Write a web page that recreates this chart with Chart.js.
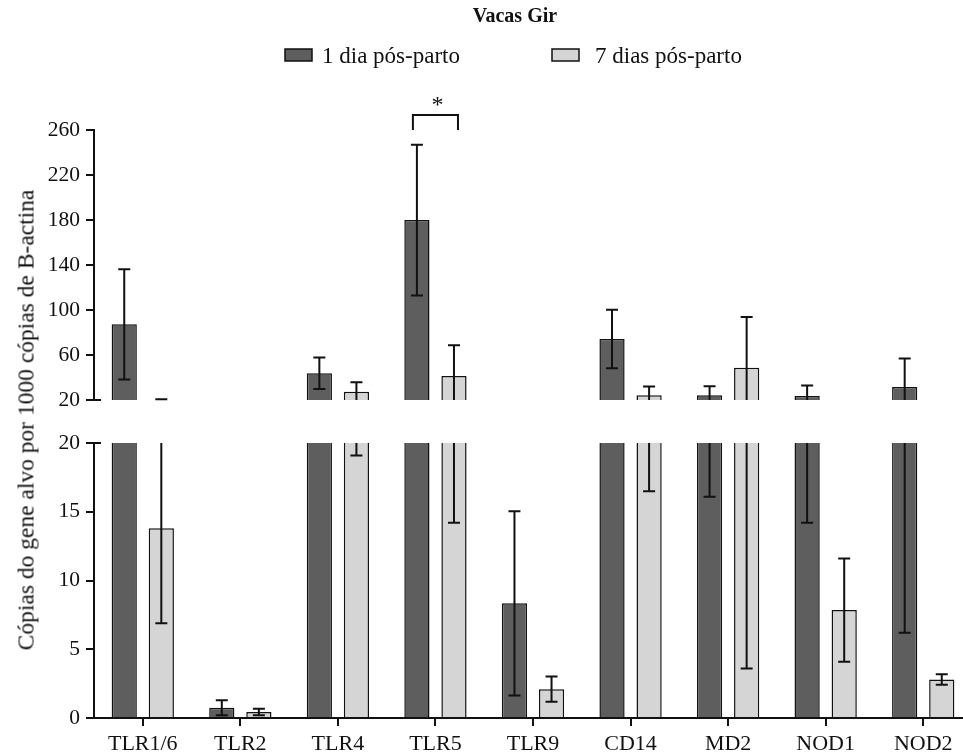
<!DOCTYPE html>
<html>
<head>
<meta charset="utf-8">
<script src="https://cdn.jsdelivr.net/npm/chart.js@4"></script>
<style>
  html, body { margin: 0; padding: 0; background: #fff; overflow: hidden; }
  #wrap { position: relative; width: 972px; height: 753px; }
  #wrap canvas { position: absolute; left: 0; }
  #ytitle {
    position: absolute; left: 26px; top: 420px;
    transform: translate(-50%, -50%) rotate(-90deg);
    white-space: nowrap; color: #111;
    font: 23.5px "Liberation Serif", "Times New Roman", serif;
  }
</style>
</head>
<body>
<div id="wrap">
  <canvas id="upper" width="972" height="420" style="top:0"></canvas>
  <canvas id="lower" width="972" height="338" style="top:415px"></canvas>
  <div id="ytitle">Cópias do gene alvo por 1000 cópias de B-actina</div>
</div>
<script>
/* DATA */
const genes = ['TLR1/6', 'TLR2', 'TLR4', 'TLR5', 'TLR9', 'CD14', 'MD2', 'NOD1', 'NOD2']
const dia1 = [87.3, 0.75, 43.7, 180, 8.34, 74.2, 24.2, 23.6, 31.6]
const dia1Err = [49, 0.55, 14, 67, 6.7, 26, 8.1, 9.4, 25.4]
const dia7 = [13.8, 0.44, 27.4, 41.4, 2.1, 24.2, 48.7, 7.85, 2.8]
const dia7Err = [6.9, 0.24, 8.3, 27.2, 0.92, 7.7, 45.1, 3.75, 0.38]
const seriesNames = ['1 dia pós-parto', '7 dias pós-parto']
const upperRange = [20, 260, 40]   // min, max, step
const lowerRange = [0, 20, 5]
const sigIndex = 3                 // TLR5, p < 0.05

Chart.defaults.font.family = '"Liberation Serif", "Times New Roman", serif'
Chart.defaults.color = '#111'

const fills = ['#5e5e5e', '#d5d5d5']

function makeData(){
    return {
        labels: genes,
        datasets: [
            {label: seriesNames[0], data: dia1, errors: dia1Err, backgroundColor: fills[0]},
            {label: seriesNames[1], data: dia7, errors: dia7Err, backgroundColor: fills[1]}
        ].map(d => Object.assign(d, {
            borderColor: '#111', borderWidth: 1.5, borderSkipped: 'start',
            barPercentage: 0.68, categoryPercentage: 0.76, clip: 0
        }))
    }
}

/* error bars, clamped to the panel */
const errorBars = {
    id: 'errorBars',
    afterDatasetsDraw(chart){
        const {ctx} = chart
        const y = chart.scales.y
        ctx.save()
        ctx.strokeStyle = '#111'
        ctx.lineWidth = 2
        chart.data.datasets.forEach((ds, i) => {
            chart.getDatasetMeta(i).data.forEach((bar, j) => {
                const lo = ds.data[j] - ds.errors[j], hi = ds.data[j] + ds.errors[j]
                if (hi < y.min || lo > y.max) return
                const yTop = y.getPixelForValue(Math.min(hi, y.max))
                const yBot = y.getPixelForValue(Math.max(lo, y.min))
                ctx.beginPath()
                ctx.moveTo(bar.x, yTop); ctx.lineTo(bar.x, yBot)
                if (hi <= y.max){ ctx.moveTo(bar.x - 6, yTop); ctx.lineTo(bar.x + 6, yTop) }
                if (lo >= y.min){ ctx.moveTo(bar.x - 6, yBot); ctx.lineTo(bar.x + 6, yBot) }
                ctx.stroke()
            })
        })
        ctx.restore()
    }
}

/* little tick crossing the axis at the break */
const breakMark = {
    id: 'breakMark',
    afterDraw(chart, args, opts){
        const {ctx, chartArea: a} = chart
        const yy = opts.edge === 'top' ? a.top : a.bottom
        ctx.save()
        ctx.strokeStyle = '#111'
        ctx.lineWidth = 2
        ctx.beginPath()
        ctx.moveTo(a.left, yy); ctx.lineTo(a.left + 7, yy)
        ctx.stroke()
        ctx.restore()
    }
}

/* title, legend and significance bracket */
const header = {
    id: 'header',
    afterDraw(chart){
        const {ctx, chartArea: a} = chart
        ctx.save()
        ctx.fillStyle = '#111'
        ctx.textBaseline = 'middle'
        ctx.textAlign = 'center'
        ctx.font = 'bold 20px "Liberation Serif"'
        ctx.fillText('Vacas Gir', 515, 17)

        ctx.font = '23px "Liberation Serif"'
        ctx.textAlign = 'left'
        ctx.lineWidth = 1.5
        ctx.strokeStyle = '#111'
        const legendX = [285, 552]
        chart.data.datasets.forEach((ds, i) => {
            ctx.fillStyle = ds.backgroundColor
            ctx.fillRect(legendX[i], 49, 27, 12)
            ctx.strokeRect(legendX[i], 49, 27, 12)
            ctx.fillStyle = '#111'
            ctx.fillText(ds.label, legendX[i] + 37 + i * 6, 57)
        })

        const b0 = chart.getDatasetMeta(0).data[sigIndex]
        const b1 = chart.getDatasetMeta(1).data[sigIndex]
        const top = a.top - 15
        ctx.lineWidth = 2
        ctx.beginPath()
        ctx.moveTo(b0.x - 4, a.top); ctx.lineTo(b0.x - 4, top)
        ctx.lineTo(b1.x + 4, top); ctx.lineTo(b1.x + 4, a.top)
        ctx.stroke()
        ctx.textAlign = 'center'
        ctx.font = '24px "Liberation Serif"'
        ctx.fillText('*', (b0.x + b1.x) / 2 + 2, top - 9)
        ctx.restore()
    }
}

function yAxis(range){
    return {
        min: range[0], max: range[1],
        afterFit: s => { s.width = 94 },
        border: {color: '#111', width: 2},
        grid: {drawOnChartArea: false, tickLength: 8, color: '#111', lineWidth: 2},
        ticks: {stepSize: range[2], padding: 6, font: {size: 21.5}, color: '#111'}
    }
}

new Chart(document.getElementById('upper'), {
    type: 'bar',
    data: makeData(),
    plugins: [errorBars, breakMark, header],
    options: {
        responsive: false,
        animation: false,
        layout: {padding: {top: 130, bottom: 20, left: 0, right: 0}},
        plugins: {legend: {display: false}, tooltip: {enabled: false}, breakMark: {edge: 'bottom'}},
        scales: {
            x: {display: false},
            y: yAxis(upperRange)
        }
    }
})

new Chart(document.getElementById('lower'), {
    type: 'bar',
    data: makeData(),
    plugins: [errorBars, breakMark],
    options: {
        responsive: false,
        animation: false,
        layout: {padding: {top: 28, bottom: 0, left: 0, right: 0}},
        plugins: {legend: {display: false}, tooltip: {enabled: false}, breakMark: {edge: 'top'}},
        scales: {
            x: {
                afterFit: s => { s.height = 35 },
                border: {color: '#111', width: 2},
                grid: {offset: false, drawOnChartArea: false, tickLength: 8, color: '#111', lineWidth: 2},
                ticks: {padding: 5, font: {size: 22}, color: '#111', maxRotation: 0}
            },
            y: yAxis(lowerRange)
        }
    }
})
</script>
</body>
</html>
